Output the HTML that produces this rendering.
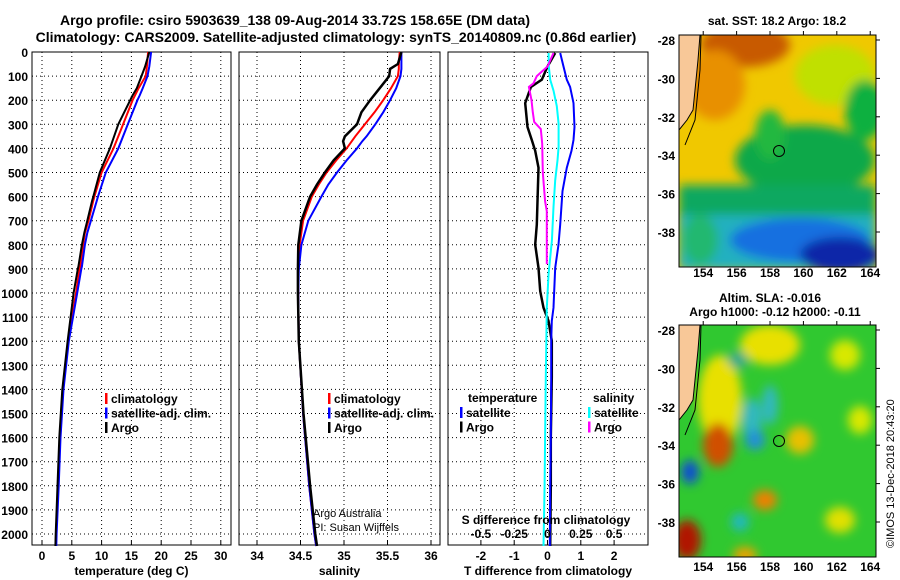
<!DOCTYPE html>
<html><head><meta charset="utf-8"><style>
body{margin:0;background:#fff;}
svg{display:block;font-family:"Liberation Sans",sans-serif;font-weight:bold;}
</style></head><body>
<svg id="c" width="900" height="580" viewBox="0 0 900 580">
<defs>
<filter id="bl" x="-50%" y="-50%" width="200%" height="200%"><feGaussianBlur stdDeviation="5"/></filter>
<clipPath id="cm1"><rect x="679" y="35" width="197" height="232"/></clipPath>
<clipPath id="cm2"><rect x="679" y="325" width="197" height="232"/></clipPath>
</defs>
<text x="295" y="25" font-size="14" text-anchor="middle">Argo profile: csiro 5903639_138 09-Aug-2014 33.72S 158.65E (DM data)</text>
<text x="336" y="42" font-size="14" text-anchor="middle">Climatology: CARS2009. Satellite-adjusted climatology: synTS_20140809.nc (0.86d earlier)</text>

<g clip-path="url(#cm1)">
<rect x="679" y="35" width="197" height="232" fill="#f0c800"/>
<g filter="url(#bl)">
<ellipse cx="745" cy="45" rx="45" ry="22" fill="#c85a00"/>
<ellipse cx="715" cy="85" rx="30" ry="35" fill="#e89000"/>
<ellipse cx="835" cy="75" rx="40" ry="30" fill="#c0e000"/>
<ellipse cx="865" cy="110" rx="20" ry="30" fill="#10b040"/>
<ellipse cx="805" cy="160" rx="70" ry="35" fill="#10a848"/>
<ellipse cx="770" cy="135" rx="15" ry="25" fill="#20b840"/>
<rect x="679" y="185" width="197" height="30" fill="#10a860"/>
<rect x="679" y="215" width="197" height="55" fill="#20b0c0"/>
<ellipse cx="800" cy="240" rx="70" ry="22" fill="#1870e0"/>
<ellipse cx="840" cy="255" rx="40" ry="18" fill="#0828a8"/>
<ellipse cx="700" cy="240" rx="18" ry="25" fill="#20b870"/>
</g>
<polygon points="679,35 700,35 698,60 693,110 687,120 679,130" fill="#f8c898" stroke="#000" stroke-width="1"/>
<polyline points="701,35 700,70 695,120 685,145" fill="none" stroke="#000"/>
<circle cx="779" cy="151" r="5.5" fill="none" stroke="#000"/>
</g>
<rect x="679" y="35" width="197" height="232" fill="none" stroke="#000"/>

<g clip-path="url(#cm2)">
<rect x="679" y="325" width="197" height="232" fill="#30c830"/>
<g filter="url(#bl)">
<ellipse cx="770" cy="345" rx="30" ry="20" fill="#e8e000"/>
<ellipse cx="720" cy="400" rx="22" ry="45" fill="#e8e000"/>
<ellipse cx="718" cy="445" rx="15" ry="22" fill="#d05000"/>
<ellipse cx="738" cy="360" rx="10" ry="8" fill="#20a890"/>
<ellipse cx="752" cy="420" rx="10" ry="22" fill="#30b8c0"/>
<ellipse cx="770" cy="405" rx="8" ry="20" fill="#30b8c0"/>
<ellipse cx="755" cy="440" rx="10" ry="10" fill="#2090d8"/>
<ellipse cx="690" cy="472" rx="9" ry="12" fill="#1050d0"/>
<ellipse cx="687" cy="540" rx="14" ry="20" fill="#b01800"/>
<ellipse cx="765" cy="500" rx="12" ry="10" fill="#f08000"/>
<ellipse cx="800" cy="440" rx="14" ry="14" fill="#e8c000"/>
<ellipse cx="845" cy="355" rx="15" ry="15" fill="#d8e800"/>
<ellipse cx="840" cy="520" rx="15" ry="13" fill="#e0e000"/>
<ellipse cx="860" cy="420" rx="12" ry="14" fill="#d8e800"/>
<ellipse cx="740" cy="522" rx="9" ry="9" fill="#20b8c0"/>
<ellipse cx="745" cy="555" rx="12" ry="8" fill="#f0a000"/>
</g>
<polygon points="679,325 700,325 698,350 693,400 687,410 679,420" fill="#f8c898" stroke="#000" stroke-width="1"/>
<polyline points="701,325 700,360 695,410 685,435" fill="none" stroke="#000"/>
<circle cx="779" cy="441" r="5.5" fill="none" stroke="#000"/>
</g>
<rect x="679" y="325" width="197" height="232" fill="none" stroke="#000"/>

<text x="777" y="25" font-size="12" text-anchor="middle">sat. SST: 18.2 Argo: 18.2</text>
<text x="770" y="302" font-size="12" text-anchor="middle">Altim. SLA: -0.016</text>
<text x="775" y="316" font-size="12" text-anchor="middle">Argo h1000: -0.12 h2000: -0.11</text>
<text transform="translate(894,548) rotate(-90)" font-size="11" font-weight="normal">©IMOS 13-Dec-2018 20:43:20</text>
<g id="maxes"></g>
<g id="panels"></g>
</svg>
<script>
// ---- data ----
const depthT = [0,60,100,150,180,200,300,400,500,600,617,700,750,800,890,900,1000,1200,1400,1600,1800,2000,2050];
const tempClim = [17.8,17.6,17.4,16.2,15.6,15.2,13.6,12.0,10.0,8.8,8.6,7.8,7.2,6.9,6.4,6.3,5.7,4.4,3.5,3.0,2.7,2.35,2.3];
const tempSat  = [18.3,18.0,17.7,16.9,16.4,16.0,14.4,12.8,10.7,9.4,9.2,8.2,7.6,7.2,6.7,6.6,5.9,4.5,3.6,3.1,2.8,2.45,2.4];
const tempArgo = [18.0,17.3,16.7,15.9,15.2,14.8,12.8,11.4,9.7,8.6,8.4,7.6,7.1,6.7,6.1,6.0,5.3,4.3,3.4,2.9,2.6,2.3,2.25];
const depthS = [0,50,70,100,150,200,250,300,350,370,400,450,500,550,600,700,800,900,1000,1200,1500,1800,2000,2050];
const salClim = [35.64,35.63,35.63,35.62,35.54,35.45,35.35,35.24,35.13,35.09,35.03,34.91,34.80,34.71,34.63,34.53,34.49,34.475,34.475,34.48,34.53,34.60,34.66,34.68];
const salSat  = [35.66,35.66,35.66,35.65,35.60,35.53,35.45,35.36,35.26,35.21,35.15,35.03,34.92,34.82,34.74,34.59,34.51,34.48,34.475,34.48,34.53,34.60,34.66,34.68];
const salArgo = [35.66,35.62,35.53,35.52,35.41,35.30,35.20,35.15,35.01,34.99,35.01,34.88,34.78,34.69,34.61,34.51,34.475,34.47,34.47,34.48,34.535,34.61,34.67,34.69];
const depthD = [4,60,115,145,212,311,365,410,480,577,716,799,896,992,1061,1116,1199,1350,1600,1800,2050];
const tDiffArgo = [0.23,0.0,-0.17,-0.5,-0.67,-0.6,-0.47,-0.37,-0.27,-0.29,-0.32,-0.37,-0.27,-0.22,-0.12,0.03,0.13,0.13,0.1,0.1,0.08];
const tDiffSat  = [0.38,0.48,0.58,0.68,0.78,0.81,0.78,0.72,0.58,0.45,0.38,0.33,0.23,0.2,0.18,0.13,0.11,0.11,0.1,0.08,0.07];
const depthSD = [4,60,115,160,225,297,394,450,532,643,782,920,1061,1350,1600,1800,2050];
const sDiffSat = [0.008,0.01,0.02,0.045,0.07,0.083,0.083,0.075,0.058,0.045,0.033,0.008,-0.005,-0.013,-0.018,-0.022,-0.03];
const depthSA = [4,60,100,130,145,200,250,290,320,380,500,620,660,880];
const sDiffArgo = [0.045,0.0,-0.08,-0.105,-0.14,-0.12,-0.11,-0.1,-0.05,-0.04,-0.035,-0.018,-0.005,-0.005];
const depthTicks = [0,100,200,300,400,500,600,700,800,900,1000,1100,1200,1300,1400,1500,1600,1700,1800,1900,2000];
const tTicks = [0,5,10,15,20,25,30];
const sTicks = [34,34.5,35,35.5,36];
const dTicks = [-2,-1,0,1,2];
const sdTicks = [-0.5,-0.25,0,0.25,0.5];
const latTicks = [-28,-30,-32,-34,-36,-38];
const lonTicks = [154,156,158,160,162,164];

const NS='http://www.w3.org/2000/svg';
const root=document.getElementById('panels');
function el(tag,attrs,parent){const e=document.createElementNS(NS,tag);for(const k in attrs)e.setAttribute(k,attrs[k]);(parent||root).appendChild(e);return e;}
const Y0=52, PY=0.241, YB=545;
const yS=d=>Y0+d*PY;
const fmt=v=>(v<0?'-':'')+String(Math.abs(v)).replace(/^0\./,'0.');
function panel(name,x0,x1,xs,ticks,label){
  const g=el('g',{});
  
  
  depthTicks.forEach(d=>{const l=el('line',{x1:x0,x2:x1,y1:yS(d),y2:yS(d),stroke:'#000','stroke-dasharray':'1 3'},g);});
  ticks.forEach(t=>{const l=el('line',{x1:xs(t),x2:xs(t),y1:Y0,y2:YB,stroke:'#000','stroke-dasharray':'1 3'},g);
    const tk=el('line',{x1:xs(t),x2:xs(t),y1:YB,y2:YB-4,stroke:'#000'},g);
    const tx=el('text',{x:xs(t),y:560,'font-size':12,'text-anchor':'middle'},g);tx.textContent=fmt(t);});
  const r=el('rect',{x:x0,y:Y0,width:x1-x0,height:YB-Y0,fill:'none',stroke:'#000'},g);
  
  const t=el('text',{x:(x0+x1)/2,y:575,'font-size':12,'text-anchor':'middle'},g);t.textContent=label;
  
  return g;
}
function line(g,xs,vals,ds,color,w,name){
  const p=el('polyline',{points:vals.map((v,i)=>xs(v).toFixed(1)+','+yS(ds[i]).toFixed(1)).join(' '),fill:'none',stroke:color,'stroke-width':w},g);
  
}
function legend(g,x,y,items){
  items.forEach((it,i)=>{const yy=y+i*14.5;
    const m=el('rect',{x:x,y:yy-10,width:2.5,height:11,fill:it[1]},g);
    const t=el('text',{x:x+6,y:yy,'font-size':12},g);t.textContent=it[0];});
}
depthTicks.forEach(d=>{const t=el('text',{x:28,y:yS(d)+5,'font-size':12,'text-anchor':'end'});t.textContent=d;
  });
const xT=v=>42+v*5.96;
const g1=panel('temperature-panel',32,231,xT,tTicks,'temperature (deg C)');
line(g1,xT,tempClim,depthT,'#f00',2,'temp-climatology-line');
line(g1,xT,tempSat,depthT,'#00f',2,'temp-satellite-line');
line(g1,xT,tempArgo,depthT,'#000',2,'temp-argo-line');
legend(g1,105,403,[['climatology','#f00'],['satellite-adj. clim.','#00f'],['Argo','#000']]);
const xSa=v=>257+(v-34)*87;
const g2=panel('salinity-panel',239,440,xSa,sTicks,'salinity');
line(g2,xSa,salClim,depthS,'#f00',2,'sal-climatology-line');
line(g2,xSa,salSat,depthS,'#00f',2,'sal-satellite-line');
line(g2,xSa,salArgo,depthS,'#000',2.5,'sal-argo-line');
legend(g2,328,403,[['climatology','#f00'],['satellite-adj. clim.','#00f'],['Argo','#000']]);
let t=el('text',{x:313,y:517,'font-size':11,'font-weight':'normal'},g2);t.textContent='Argo Australia';
t=el('text',{x:313,y:531,'font-size':11,'font-weight':'normal'},g2);t.textContent='PI: Susan Wijffels';
const xD=v=>547.5+v*33.3;
const xSD=v=>xD(v*4);
const g3=panel('difference-panel',448,648,xD,dTicks,'T difference from climatology');
line(g3,xD,tDiffArgo,depthD,'#000',2.5,'tdiff-argo-line');
line(g3,xD,tDiffSat,depthD,'#00f',2,'tdiff-satellite-line');
line(g3,xSD,sDiffSat,depthSD,'#0ff',2,'sdiff-satellite-line');
line(g3,xSD,sDiffArgo,depthSA,'#f0f',2,'sdiff-argo-line');
t=el('text',{x:468,y:402,'font-size':12},g3);t.textContent='temperature';
t=el('text',{x:593,y:402,'font-size':12},g3);t.textContent='salinity';
legend(g3,460,417,[['satellite','#00f'],['Argo','#000']]);
legend(g3,588,417,[['satellite','#0ff'],['Argo','#f0f']]);
t=el('text',{x:546,y:524,'font-size':12,'text-anchor':'middle'},g3);t.textContent='S difference from climatology';
sdTicks.forEach(v=>{const s=el('text',{x:xSD(v),y:538,'font-size':12,'text-anchor':'middle'},g3);s.textContent=fmt(v);});
const ma=document.getElementById('maxes');
const lonX=v=>679+(v-152.55)*16.7;
[[35,277],[325,571]].forEach(([top,ly])=>{
  const latY=v=>top+5+(-28-v)*19.2;
  latTicks.forEach(v=>{const s=el('text',{x:675,y:latY(v)+5,'font-size':12,'text-anchor':'end'},ma);s.textContent=v;
    const k=el('line',{x1:876,x2:880,y1:latY(v),y2:latY(v),stroke:'#000'},ma);});
  lonTicks.forEach(v=>{const s=el('text',{x:lonX(v),y:ly,'font-size':12,'text-anchor':'middle'},ma);s.textContent=v;
    const k=el('line',{x1:lonX(v),x2:lonX(v),y1:top-4,y2:top,stroke:'#000'},ma);});
});
</script>
</body></html>
